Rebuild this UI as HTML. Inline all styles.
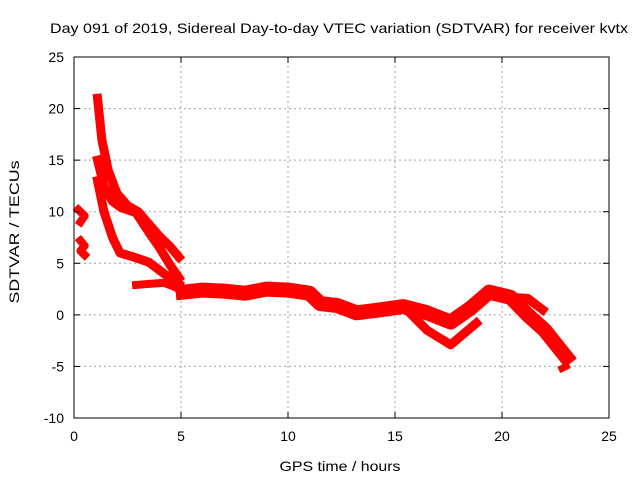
<!DOCTYPE html>
<html><head><meta charset="utf-8"><style>
body{margin:0;background:#fff}
svg{display:block;font-family:"Liberation Sans",Arial,sans-serif}
</style></head><body>
<svg id="chart" width="640" height="480">
<rect x="0" y="0" width="640" height="480" fill="#fff"/>
<text x="339" y="33" font-size="14" text-anchor="middle" textLength="578" lengthAdjust="spacingAndGlyphs">Day 091 of 2019, Sidereal Day-to-day VTEC variation (SDTVAR) for receiver kvtx</text>
<g id="grid"></g>
<g id="series"></g>
<g id="axes"></g>
<text x="340" y="471" font-size="14" text-anchor="middle" textLength="121" lengthAdjust="spacingAndGlyphs">GPS time / hours</text>
<text transform="translate(19,232) rotate(-90)" font-size="14" text-anchor="middle" textLength="143" lengthAdjust="spacingAndGlyphs">SDTVAR / TECUs</text>
</svg>
<script>
const xTicks=[0,5,10,15,20,25];
const yTicks=[-10,-5,0,5,10,15,20,25];
const seriesUpper=[[1.1,21],[1.3,17],[1.6,14],[2,11.8],[2.5,10.6],[3,10],[3.5,8.8],[4,7.6],[4.5,6.6],[4.9,5.6]];
const seriesMiddle=[[1.1,15],[1.4,12.5],[1.8,11],[2.2,10.4],[2.9,9.9],[3.5,8],[4,6.5],[4.5,4.8],[4.9,3.6]];
const seriesLower=[[1.1,13],[1.4,10],[1.8,7.5],[2.15,6],[2.8,5.6],[3.5,5.1],[4.2,4],[4.9,3]];
const seriesLowSeg=[[2.9,2.9],[3.5,3],[4.2,3.1],[4.6,2.8],[4.9,2.5]];
const seriesLeftA=[[0.2,10.2],[0.5,9.6],[0.3,9]];
const seriesLeftB=[[0.3,7.2],[0.5,6.7],[0.3,6.2],[0.5,5.8]];
const seriesMain=[[5.1,2.2],[6,2.4],[7,2.3],[8,2.1],[9,2.5],[10,2.4],[11,2.1],[11.5,1.1],[12.3,0.9],[13.2,0.2],[14,0.4],[15.4,0.8],[16.5,0.2],[17.6,-0.7],[18.5,0.6],[19.4,2.2],[20.4,1.7],[21.2,0],[22,-1.5],[23,-4.1]];
const seriesBranch=[[15.4,0.8],[16.5,-1.5],[17.6,-2.9],[18.8,-0.8]];
const seriesSide=[[20.4,1.7],[21.2,1.6],[21.9,0.5]];
const seriesTail=[[22.8,-5.2],[23,-5]];
const allSeries=[seriesUpper,seriesMiddle,seriesLower,seriesLowSeg,seriesLeftA,seriesLeftB,seriesMain,seriesBranch,seriesSide,seriesTail];
const seriesNames=['series-upper','series-middle','series-lower','series-low-segment','series-left-a','series-left-b','series-main','series-branch','series-side','series-tail'];
const seriesWidths=[9,9,9,8,8,8,15,9,9,7];
const X0=74,X1=609,Y0=418,Y1=57,XMIN=0,XMAX=25,YMIN=-10,YMAX=25;
const sx=v=>X0+(v-XMIN)/(XMAX-XMIN)*(X1-X0);
const sy=v=>Y0-(v-YMIN)/(YMAX-YMIN)*(Y0-Y1);
const NS='http://www.w3.org/2000/svg';
function mk(t,a,p){const e=document.createElementNS(NS,t);for(const k in a)e.setAttribute(k,a[k]);p.appendChild(e);return e;}
const grid=document.getElementById('grid'),axes=document.getElementById('axes'),ser=document.getElementById('series');
xTicks.forEach(t=>{const x=sx(t);
 if(t>XMIN&&t<XMAX){const g=mk('line',{x1:x,y1:Y0,x2:x,y2:Y1,stroke:'#a0a0a0','stroke-dasharray':'2,3'},grid);
 
 }
 mk('line',{x1:x,y1:Y0,x2:x,y2:Y0-6,stroke:'#000'},axes);
 mk('line',{x1:x,y1:Y1,x2:x,y2:Y1+6,stroke:'#000'},axes);
 const l=mk('text',{x:x,y:Y0+23,'font-size':14,'text-anchor':'middle'},axes);l.textContent=t;
 
 });
yTicks.forEach(t=>{const y=sy(t);
 if(t>YMIN&&t<YMAX){const g=mk('line',{x1:X0,y1:y,x2:X1,y2:y,stroke:'#a0a0a0','stroke-dasharray':'2,3'},grid);
 
 }
 mk('line',{x1:X0,y1:y,x2:X0+6,y2:y,stroke:'#000'},axes);
 mk('line',{x1:X1,y1:y,x2:X1-6,y2:y,stroke:'#000'},axes);
 const l=mk('text',{x:X0-10,y:y+5,'font-size':14,'text-anchor':'end'},axes);l.textContent=t;
 
 });
const fr=mk('rect',{x:X0,y:Y1,width:X1-X0,height:Y0-Y1,fill:'none',stroke:'#000'},axes);


allSeries.forEach((s,i)=>{
 const p=mk('polyline',{points:s.map(d=>sx(d[0])+','+sy(d[1])).join(' '),fill:'none',stroke:'#ff0000','stroke-width':seriesWidths[i],'stroke-linejoin':'round','stroke-linecap':'square'},ser);
 
 
});
</script>
</body></html>
